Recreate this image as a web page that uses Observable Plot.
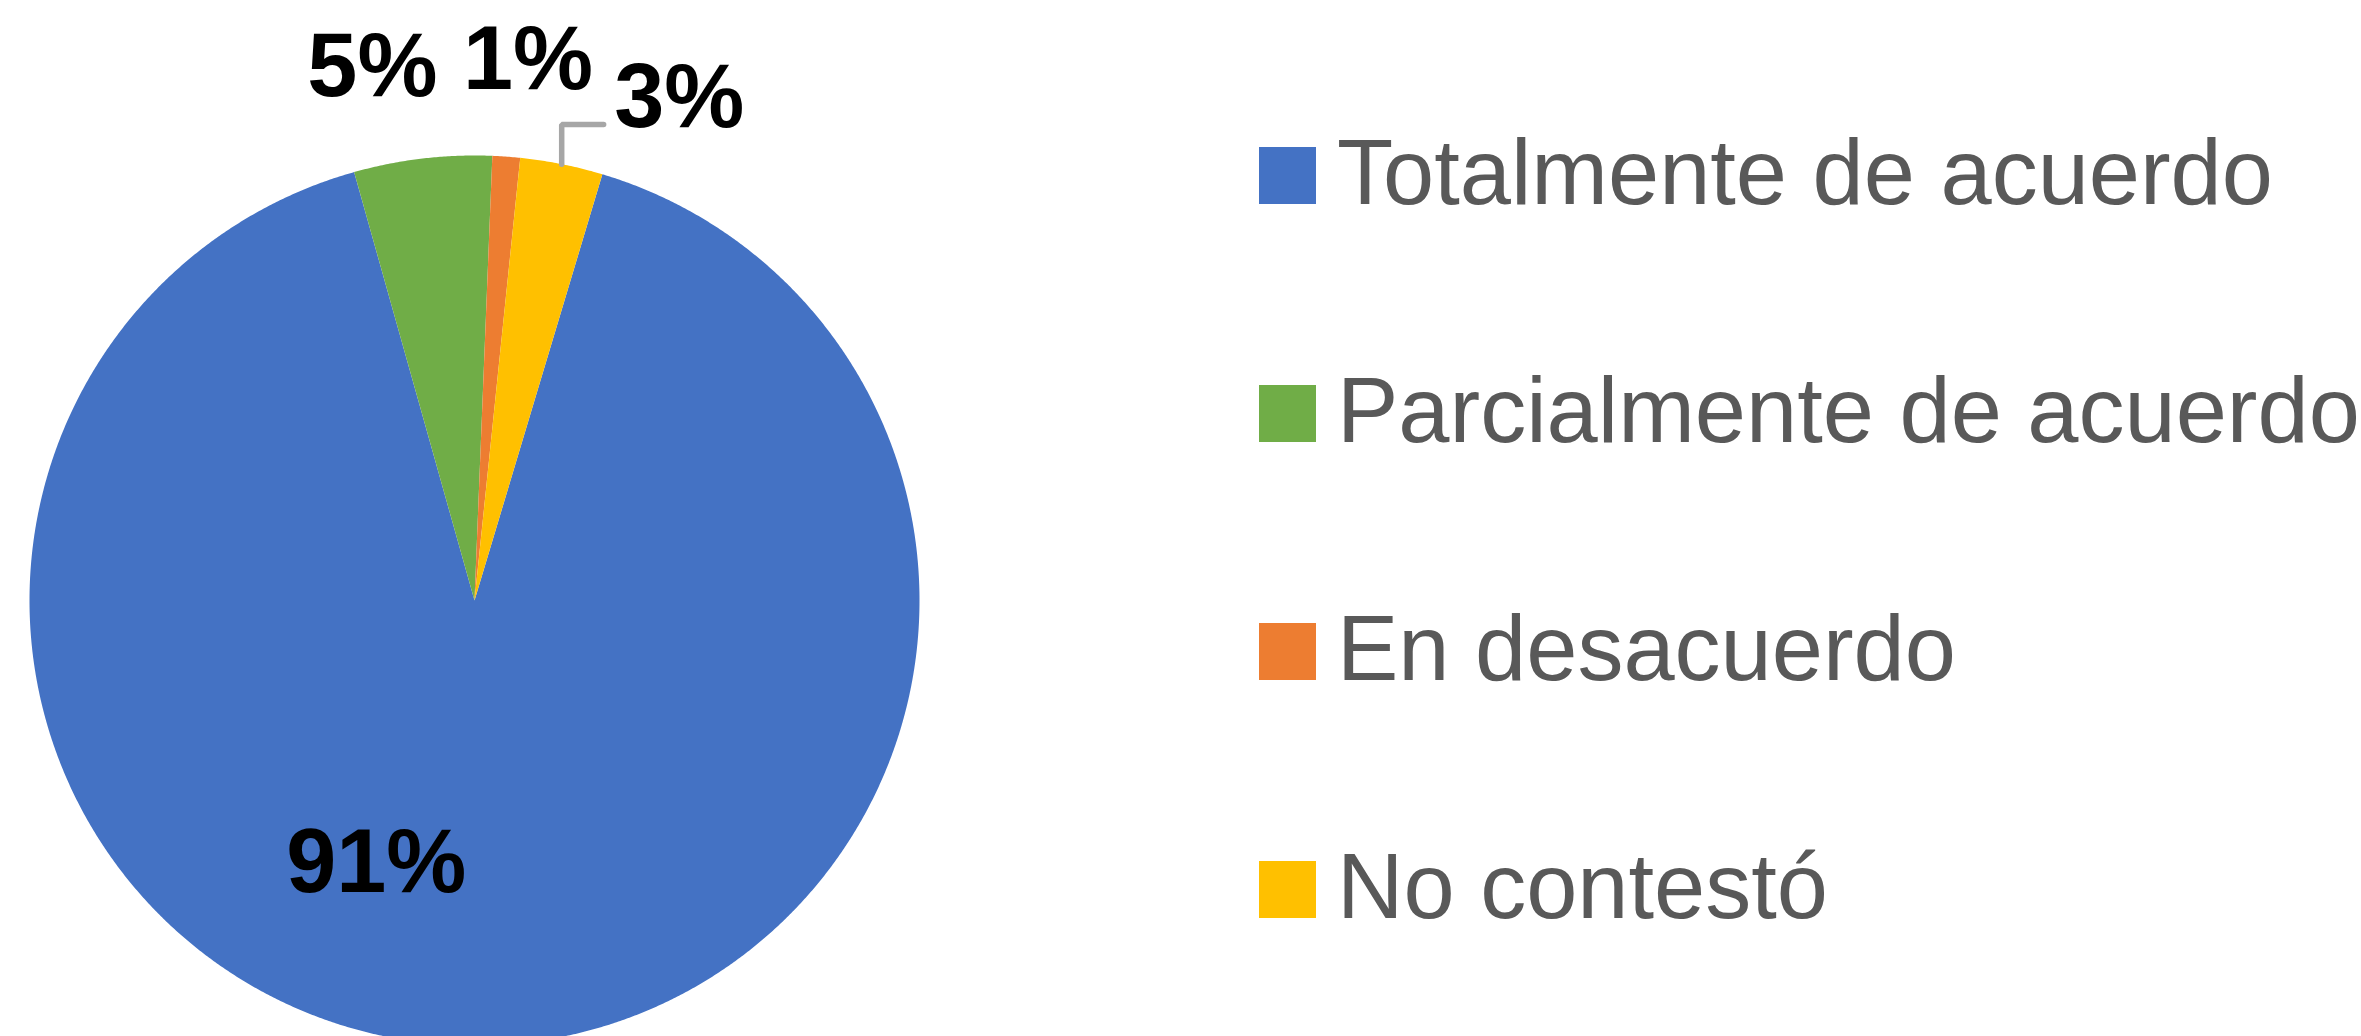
<!DOCTYPE html>
<html>
<head>
<meta charset="utf-8">
<script src="https://cdn.jsdelivr.net/npm/d3@7"></script>
<script src="https://cdn.jsdelivr.net/npm/@observablehq/plot@0.6"></script>
<style>
  html, body { margin: 0; padding: 0; background: #ffffff; }
  #chart { position: relative; width: 2361px; height: 1036px; overflow: hidden; }
  #chart svg { position: absolute; left: 0; top: 0; }
  .legend-row { position: absolute; left: 1259px; display: flex; align-items: baseline;
                font-family: "Liberation Sans", Arial, sans-serif; font-size: 92px; line-height: 1; color: #595959; white-space: nowrap; }
  .legend-swatch { display: inline-block; width: 57px; height: 57px; margin-right: 21px; }
</style>
</head>
<body>
<div id="chart"></div>
<script>
// ---- data ----
const categories = ["Totalmente de acuerdo", "Parcialmente de acuerdo", "En desacuerdo", "No contestó"];
const values = [91, 5, 1, 3];
const colors = ["#4472C4", "#70AD47", "#ED7D31", "#FFC000"];

// ---- layout constants ----
const W = 2361, H = 1036;
const CX = 474, CY = 600, R = 445;          // pie centre / radius in pixels
const startAngle = 16.7;                      // first slice angle (deg, clockwise from 12 o'clock)
const rad = Math.PI / 180;

const total = d3.sum(values);
let acc = startAngle;
const slices = categories.map((c, i) => {
  const a0 = acc, a1 = acc + values[i] / total * 360;
  acc = a1;
  return {category: c, value: values[i], a0, a1, mid: (a0 + a1) / 2, label: Math.round(values[i] / total * 100) + "%"};
});

// slice polygons (unit circle coords; x = sin θ, y = cos θ)
const polys = [];
slices.forEach((s, i) => {
  polys.push({key: i, category: s.category, x: 0, y: 0});
  const n = Math.max(2, Math.ceil((s.a1 - s.a0) / 0.25));
  for (let k = 0; k <= n; k++) {
    const a = (s.a0 + (s.a1 - s.a0) * k / n) * rad;
    polys.push({key: i, category: s.category, x: Math.sin(a), y: Math.cos(a)});
  }
  polys.push({key: i, category: s.category, x: 0, y: 0});
});

// label placement
const norm = a => { a = ((a + 180) % 360 + 360) % 360 - 180; return a; };
const inside = slices.filter(s => s.value / total > 0.5);
const outside = slices.filter(s => s.value / total <= 0.5).sort((a, b) => norm(a.mid) - norm(b.mid));
const labels = [];
inside.forEach(s => {
  const a = (s.mid + 20) * rad;
  labels.push({text: s.label, x: 0.63 * Math.sin(a), y: 0.63 * Math.cos(a)});
});
// spread outside labels angularly
const sep = 16.5;
const ang = outside.map(s => norm(s.mid));
for (let i = 1; i < ang.length; i++) if (ang[i] < ang[i - 1] + sep) ang[i] = ang[i - 1] + sep;
const meanDisp = d3.mean(ang.map((a, i) => a - norm(outside[i].mid)));
for (let i = 0; i < ang.length; i++) ang[i] -= 0.6 * meanDisp;
const leaders = [];
const rl = 1.22;
outside.forEach((s, i) => {
  const a = ang[i] * rad;
  const lx = rl * Math.sin(a), ly = rl * Math.cos(a);
  labels.push({text: s.label, x: lx, y: ly});
  if (Math.abs(ang[i] - norm(s.mid)) > 7.5) {
    const m = s.mid * rad;
    const px = Math.sin(m), py = Math.cos(m);
    const ey = ly - 0.06;
    leaders.push({k: i, x: px, y: py}, {k: i, x: px, y: ey}, {k: i, x: lx - 0.17, y: ey});
  }
});

const plot = Plot.plot({
  width: W, height: H,
  margin: 0,
  x: {domain: [-CX / R, (W - CX) / R], axis: null},
  y: {domain: [-(H - CY) / R, CY / R], axis: null},
  color: {domain: categories, range: colors},
  style: {background: "transparent"},
  marks: [
    Plot.line(polys, {x: "x", y: "y", z: "key", fill: "category", stroke: "none", curve: "linear"}),
    Plot.line(leaders, {x: "x", y: "y", z: "k", stroke: "#A6A6A6", strokeWidth: 5.5, strokeLinejoin: "miter"}),
    Plot.text(labels, {x: "x", y: "y", text: "text", fill: "#000000", fontSize: 90, fontWeight: "bold",
                       fontFamily: "Liberation Sans, Arial, sans-serif", textAnchor: "middle"})
  ]
});

const chart = document.getElementById("chart");
chart.appendChild(plot);

// legend (HTML, below/over the SVG area on the right)
categories.forEach((c, i) => {
  const row = document.createElement("div");
  row.className = "legend-row";
  row.style.top = (126 + 238 * i) + "px";
  const sw = document.createElement("span");
  sw.className = "legend-swatch";
  sw.style.background = colors[i];
  const tx = document.createElement("span");
  tx.textContent = c;
  row.appendChild(sw);
  row.appendChild(tx);
  chart.appendChild(row);
});
</script>
</body>
</html>
